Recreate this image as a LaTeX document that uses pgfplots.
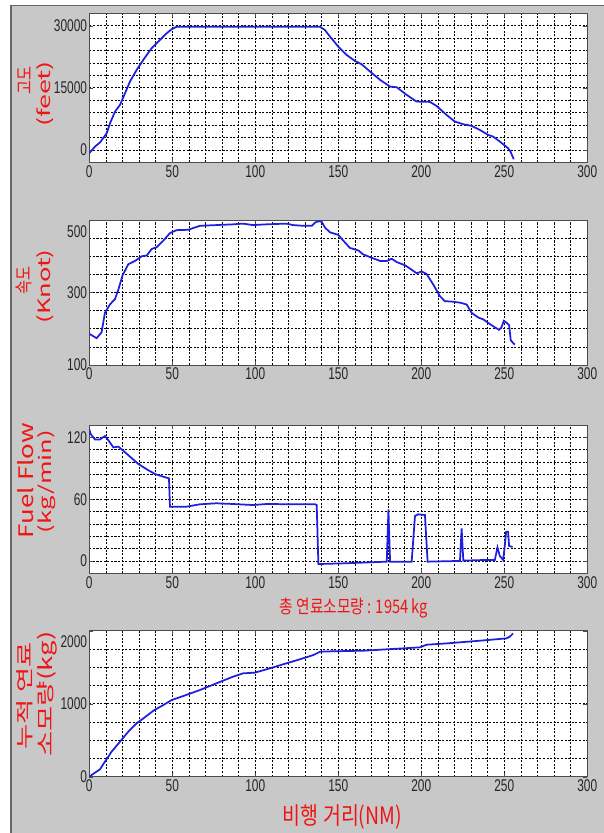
\documentclass[border=0pt]{standalone}
\usepackage{pgfplots}
\pgfplotsset{compat=1.18}
\usepackage{fontspec}
\usepackage{graphicx}
\newfontfamily\krfont{Noto Sans CJK KR}
\newfontfamily\tickfont[FakeStretch=0.7]{Liberation Sans}
\newlength\pxu \setlength\pxu{0.75pt}
\definecolor{panelgray}{RGB}{200,200,200}
\definecolor{lblred}{RGB}{240,20,20}
\definecolor{lineblue}{RGB}{30,30,225}
\pgfplotsset{
  panel/.style={
    scale only axis, width=373.5pt, xmin=0, xmax=300,
    xtick={0,50,...,300}, minor xtick={10,20,...,290},
    grid=both, axis background/.style={fill=white},
    major grid style={black, dash pattern=on 1.6pt off 1.1pt, line width=0.45pt},
    minor grid style={black, dash pattern=on 1.6pt off 1.1pt, line width=0.45pt},
    axis line style={black!70, line width=0.7pt},
    tick align=inside, tick pos=both, major tick length=3pt, minor tick length=0pt,
    tick style={black!70},
    scaled ticks=false,
    /pgf/number format/assume math mode=true, /pgf/number format/1000 sep={},
    tick label style={font=\tickfont\fontsize{12.75pt}{14pt}\selectfont, text=black!85},
    yticklabel style={inner sep=1.5pt},
    xticklabel style={inner sep=2pt},
    anchor=south west,
  },
  blueline/.style={lineblue, line width=1.3pt},
}
\begin{document}
\begin{tikzpicture}[x=0.75pt,y=0.75pt]
\fill[white] (0,0) rectangle (604,833);
\fill[panelgray] (11,0) rectangle (604,827.3);
\draw[black!60, line width=0.8pt] (11,0) -- (11,827.3) -- (604,827.3);

% altitude
\begin{axis}[panel, at={(66.975pt,503.025pt)}, height=111.75pt,
  ymin=-3000, ymax=33000, ytick={0,15000,30000},
  minor ytick={3000,6000,9000,12000,18000,21000,24000,27000}]
\addplot[blueline] coordinates {
(0,-800)(3.4,800)(6.4,1770)(10.5,4020)(12.5,6435)(15.5,9250)(18.5,10870)
(21.5,13680)(24.5,16500)(28.5,19300)(32.5,21730)(37.5,24550)(42.5,26560)
(46.6,28170)(49.6,29140)(52.6,29750)(60,29750)(100,29750)(139,29750)
(141.9,28975)(145,27365)(150,24950)(155,22940)(160,21490)(164,20700)
(169.2,18900)(175.2,16900)(181.2,15290)(185.2,15130)(191.2,13280)
(197.2,11670)(205.2,11590)(209.2,10620)(215.2,8450)(220.2,6840)
(225.3,6190)(230.3,5800)(235.3,4820)(240.3,3610)(243.3,3200)
(247.3,2010)(252.3,400)(253.7,-400)(255.7,-2260)};
\end{axis}

% speed
\begin{axis}[panel, at={(66.975pt,351pt)}, height=108.75pt,
  ymin=100, ymax=500, ytick={100,300,500},
  yticklabels={100,300,\raisebox{-8.5pt}[\height][0pt]{500}},
  minor ytick={150,200,250,350,400,450}]
\addplot[blueline] coordinates {
(0,186)(4.4,174)(7.4,190)(9.4,244)(12.4,267)(15.5,282)(17.5,308)(20.1,348)
(23.5,378)(27.5,387)(31.6,400)(34.6,402)(37.6,420)(40.6,425)(44.6,443)
(48.6,464)(52.6,472)(59.6,473)(66.6,484)(76.6,486)(86.6,488)(92.6,490)
(98.6,486)(106.6,488)(118.7,490)(122.7,486)(128.7,484)(134,484)(136,493)
(138.6,497)(140,495)(142,479)(145,466)(150,459)(153,443)(157,423)
(162.1,416)(165,405)(170,396)(175.2,387)(179.2,387)(182.2,393)(185.2,384)
(190.2,375)(193.2,366)(197.2,353)(200.2,358)(203.2,351)(207.2,322)
(211.2,290)(214.2,276)(218.3,275)(223.3,272)(227.3,267)(230.3,244)
(234.3,231)(237.3,226)(241.3,213)(244.3,204)(246.9,197)(248.3,204)
(249.7,222)(251.3,217)(252.9,210)(253.9,168)(255.3,161)(256.3,156)};
\end{axis}

% fuel flow
\begin{axis}[panel, at={(66.975pt,194.775pt)}, height=111.2pt,
  ymin=-12, ymax=132, ytick={0,60,120},
  minor ytick={12,24,36,48,72,84,96,108}]
\addplot[blueline] coordinates {
(0,128)(0.6,124)(1.4,122)(3.4,118)(6.4,118)(9.4,121.3)(11.4,117.4)
(14.5,110.3)(17.5,111)(19.5,108.4)(24.5,101.3)(29.6,94.1)(34.6,89)
(39.6,84.4)(44.6,81.8)(48,80.2)(48.6,52.7)(58.6,52.7)(66.6,55)(76.6,56)
(86.6,55.3)(98.6,54.3)(106.6,55.3)(126.7,55)(136,55)(137,54.3)(138,-3)
(154,-2.3)(179.2,-0.7)(180.2,50)(181.2,-0.7)(194.2,-0.7)(196.2,43.7)
(198.2,45.3)(202.2,44.6)(203.8,-0.7)(223.3,0)(224.3,31.7)(225.3,0.3)
(239.3,1)(244.3,1)(245.9,13.2)(247.3,4.8)(249.3,1)(250.3,14.5)
(251.1,28.3)(252.3,28.3)(252.9,14.5)(255,13.6)};
\end{axis}

% cumulative fuel
\begin{axis}[panel, at={(66.975pt,42.225pt)}, height=109.5pt,
  ymin=0, ymax=2000, ytick={0,1000,2000},
  yticklabels={0,1000,\raisebox{-8.25pt}[\height][0pt]{2000}},
  minor ytick={250,500,750,1250,1500,1750}]
\addplot[blueline] coordinates {
(0,0)(3.4,55)(6.4,100)(9.4,205)(13.4,342)(18.5,480)(23.5,617)(28.5,731)
(32.6,799)(38.6,904)(44.6,982)(49.6,1050)(56.6,1105)(66.6,1187)
(76.6,1279)(86.6,1370)(92.6,1416)(99.6,1425)(106.6,1470)(116.7,1539)
(126.7,1607)(135,1667)(139,1712)(145,1717)(165.1,1726)(185.2,1753)
(199.2,1772)(203.2,1808)(215.2,1826)(235.3,1863)(251.3,1895)
(253.3,1918)(255.3,1963)};
\end{axis}

% y labels
\begin{scope}[every node/.style={rotate=90, text=lblred, inner sep=0pt}]
\node at (24.5,752) {\krfont\fontsize{13.5pt}{14pt}\selectfont\resizebox{28\pxu}{\height}{고도}};
\node at (45.5,739) {\krfont\fontsize{12.75pt}{14pt}\selectfont\resizebox{66\pxu}{\height}{(feet)}};
\node at (24,552) {\krfont\fontsize{13.5pt}{14pt}\selectfont\resizebox{28\pxu}{\height}{속도}};
\node at (45.5,546.5) {\krfont\fontsize{12.75pt}{14pt}\selectfont\resizebox{74\pxu}{\height}{(Knot)}};
\node at (25.5,352.5) {\krfont\fontsize{15pt}{16pt}\selectfont\resizebox{115\pxu}{\height}{Fuel Flow}};
\node at (46.5,351.5) {\krfont\fontsize{12.75pt}{14pt}\selectfont\resizebox{103\pxu}{\height}{(kg/min)}};
\node at (25,137) {\krfont\fontsize{13.5pt}{15pt}\selectfont\resizebox{107\pxu}{\height}{누적 연료}};
\node at (47.5,139) {\krfont\fontsize{14pt}{15pt}\selectfont\resizebox{125\pxu}{\height}{소모량(kg)}};
\end{scope}

% x labels
\node[text=lblred, inner sep=0pt] at (354,225) {\krfont\fontsize{14pt}{15pt}\selectfont\resizebox{148\pxu}{\height}{총 연료소모량 : 1954 kg}};
\node[text=lblred, inner sep=0pt] at (342.5,16) {\krfont\fontsize{18pt}{20pt}\selectfont\resizebox{119\pxu}{\height}{비행 거리(NM)}};

\pgfresetboundingbox
\path (0,0) rectangle (604,833);
\end{tikzpicture}
\end{document}
